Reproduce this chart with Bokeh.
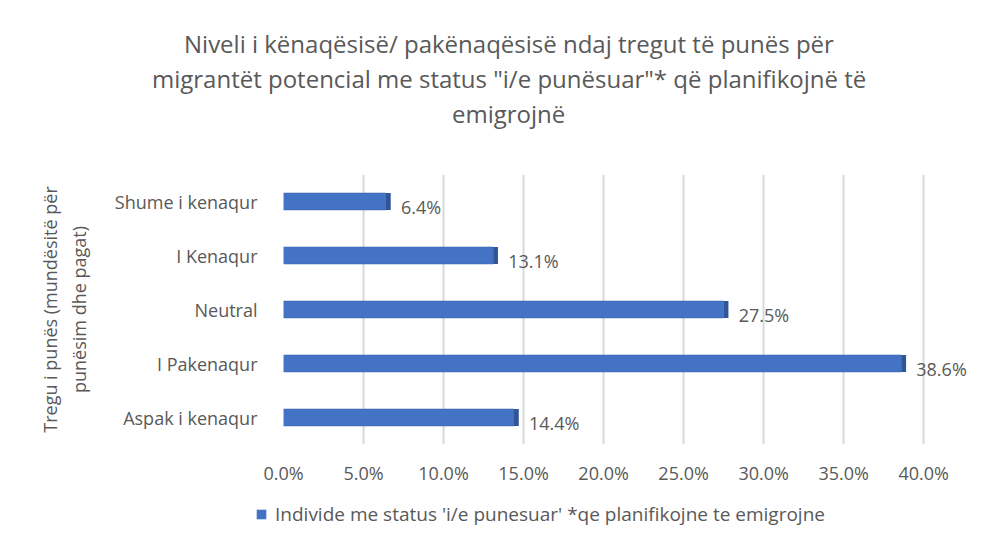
from bokeh.plotting import figure
from bokeh.models import (Title, Legend, LegendItem, NumeralTickFormatter,
                          FixedTicker, Range1d, FactorRange, ColumnDataSource)
from bokeh.embed import file_html
from bokeh.resources import INLINE
from bokeh.core.properties import value

# ---- data ----
categories = ["Aspak i kenaqur", "I Pakenaqur", "Neutral", "I Kenaqur", "Shume i kenaqur"]
shares = [0.144, 0.386, 0.275, 0.131, 0.064]
share_labels = ["14.4%", "38.6%", "27.5%", "13.1%", "6.4%"]
x_ticks = [0.0, 0.05, 0.10, 0.15, 0.20, 0.25, 0.30, 0.35, 0.40]
title_lines = ["Niveli i kënaqësisë/ pakënaqësisë ndaj tregut të punës për",
               "migrantët potencial me status \"i/e punësuar\"* që planifikojnë të",
               "emigrojnë"]
y_title = "Tregu i punës (mundësitë për\npunësim dhe pagat)"
series_name = "Individe me status 'i/e punesuar' *qe planifikojne te emigrojne"

FONT = "Open Sans"
GREY = "#595959"
BLUE = "#4472C4"

src = ColumnDataSource(dict(
    cat=categories,
    val=shares,
    side=[v + 0.003 for v in shares],
    lab=share_labels,
))

p = figure(width=976, height=490, output_backend="svg", toolbar_location=None,
           x_range=Range1d(0, 0.433), y_range=FactorRange(factors=categories),
           min_border_left=283, min_border_right=0,
           min_border_top=174, min_border_bottom=46)

p.outline_line_color = None
p.background_fill_color = "white"
p.border_fill_color = "white"

bars = p.hbar(y="cat", left=0, right="val", height=0.315, source=src,
              fill_color=BLUE, line_color="#3A64AE", line_width=0.5)
p.hbar(y="cat", left="val", right="side", height=0.315, source=src,
       fill_color="#2F5597", line_color=None)

p.text(x="val", y="cat", text="lab", source=src, x_offset=15, y_offset=5,
       text_baseline="middle", text_align="left", text_font_size="18px",
       text_color=GREY, text_font=value(FONT))

# axes
p.xaxis.ticker = FixedTicker(ticks=x_ticks)
p.xaxis.formatter = NumeralTickFormatter(format="0.0%")
for ax in (p.xaxis[0], p.yaxis[0]):
    ax.axis_line_color = None
    ax.major_tick_line_color = None
    ax.minor_tick_line_color = None
    ax.major_label_text_color = GREY
    ax.major_label_text_font = FONT
    ax.major_label_text_font_size = "18px"
p.xaxis.major_label_standoff = 10
p.yaxis.major_label_standoff = 20
p.yaxis.axis_label = y_title
p.yaxis.axis_label_text_font = FONT
p.yaxis.axis_label_text_font_size = "18px"
p.yaxis.axis_label_text_font_style = "normal"
p.yaxis.axis_label_text_color = GREY
p.yaxis.axis_label_standoff = 21

p.ygrid.grid_line_color = None
p.xgrid.grid_line_color = "#D9D9D9"
p.xgrid.grid_line_width = 2

# title: spacer next to the frame, then three centred lines (bottom line first)
p.add_layout(Title(text=" ", text_font_size="1px", standoff=42), "above")
title_offsets = [-99.5, -131.5, 168.5]
for i in (2, 1, 0):
    p.add_layout(Title(text=title_lines[i], align="left", offset=title_offsets[i],
                       standoff=0, text_font=FONT,
                       text_font_size="24px", text_font_style="normal",
                       text_color=GREY), "above")

# legend strip below the chart (separate root, so its frame is not aligned)
lg = figure(width=976, height=40, output_backend="svg", toolbar_location=None,
            x_range=Range1d(10, 11), y_range=FactorRange(factors=categories),
            x_axis_type=None, y_axis_type=None, min_border=0)
lg.outline_line_color = None
lg.grid.grid_line_color = None
lg_r = lg.hbar(y="cat", left=0, right="val", height=0.315, source=src,
               fill_color=BLUE, line_color=None)
lg_r.visible = False
legend = Legend(items=[LegendItem(label=series_name, renderers=[lg_r])],
                location=(255, 3), orientation="horizontal",
                padding=0, spacing=0, margin=0, glyph_width=12, glyph_height=12,
                label_standoff=8,
                label_text_font=FONT, label_text_font_size="19px",
                label_text_color=GREY, border_line_color=None,
                background_fill_alpha=0)
lg.add_layout(legend, "center")

open("out.html", "w").write(file_html([p, lg], INLINE))
